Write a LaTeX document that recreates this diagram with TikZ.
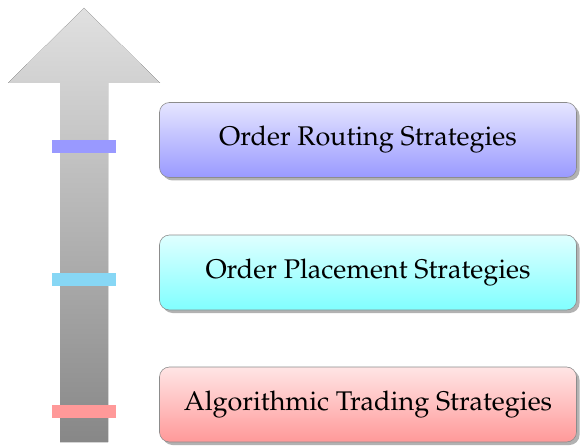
\documentclass[tikz,border=0pt]{standalone}
\usepackage[T1]{fontenc}
\usepackage{mathpazo}
\usetikzlibrary{shadows}

\definecolor{routefill}{HTML}{9999FF}
\definecolor{placefill}{HTML}{80FFFF}
\definecolor{algofill}{HTML}{FF9999}
\definecolor{routebar}{HTML}{9999FF}
\definecolor{placebar}{HTML}{87D7F5}
\definecolor{algobar}{HTML}{FF9999}

\tikzset{
  stage/.style={draw=black!45, line width=0.6pt, rounded corners=10pt,
    minimum width=417pt, minimum height=75pt, inner sep=0pt,
    font=\fontsize{27}{32}\selectfont,
    drop shadow={shadow xshift=3pt, shadow yshift=-3pt, opacity=1, fill=black!30}},
  levelbar/.style={minimum width=64pt, minimum height=13pt, inner sep=0pt, draw=none},
}

\begin{document}
\begin{tikzpicture}[x=1pt, y=-1pt]
  \useasboundingbox (0,0) rectangle (580,446);

  % upward arrow, shaded light at the tip and darker at the foot
  \fill[top color=black!12, bottom color=black!47]
    (84,8) -- (160,83) -- (108,83) -- (108,442) -- (60,442) -- (60,83) -- (8,83) -- cycle;

  % level markers on the shaft
  \node[levelbar, fill=routebar] (mroute) at (84,146.7) {};
  \node[levelbar, fill=placebar] (mplace) at (84,279) {};
  \node[levelbar, fill=algobar]  (malgo)  at (84,411) {};

  % strategy boxes
  \node[stage, top color=routefill!25, bottom color=routefill] (route) at (368,140)
    {Order Routing Strategies};
  \node[stage, top color=placefill!25, bottom color=placefill] (place) at (368,272.5)
    {Order Placement Strategies};
  \node[stage, top color=algofill!25, bottom color=algofill] (algo) at (368,404.5)
    {Algorithmic Trading Strategies};
\end{tikzpicture}
\end{document}
